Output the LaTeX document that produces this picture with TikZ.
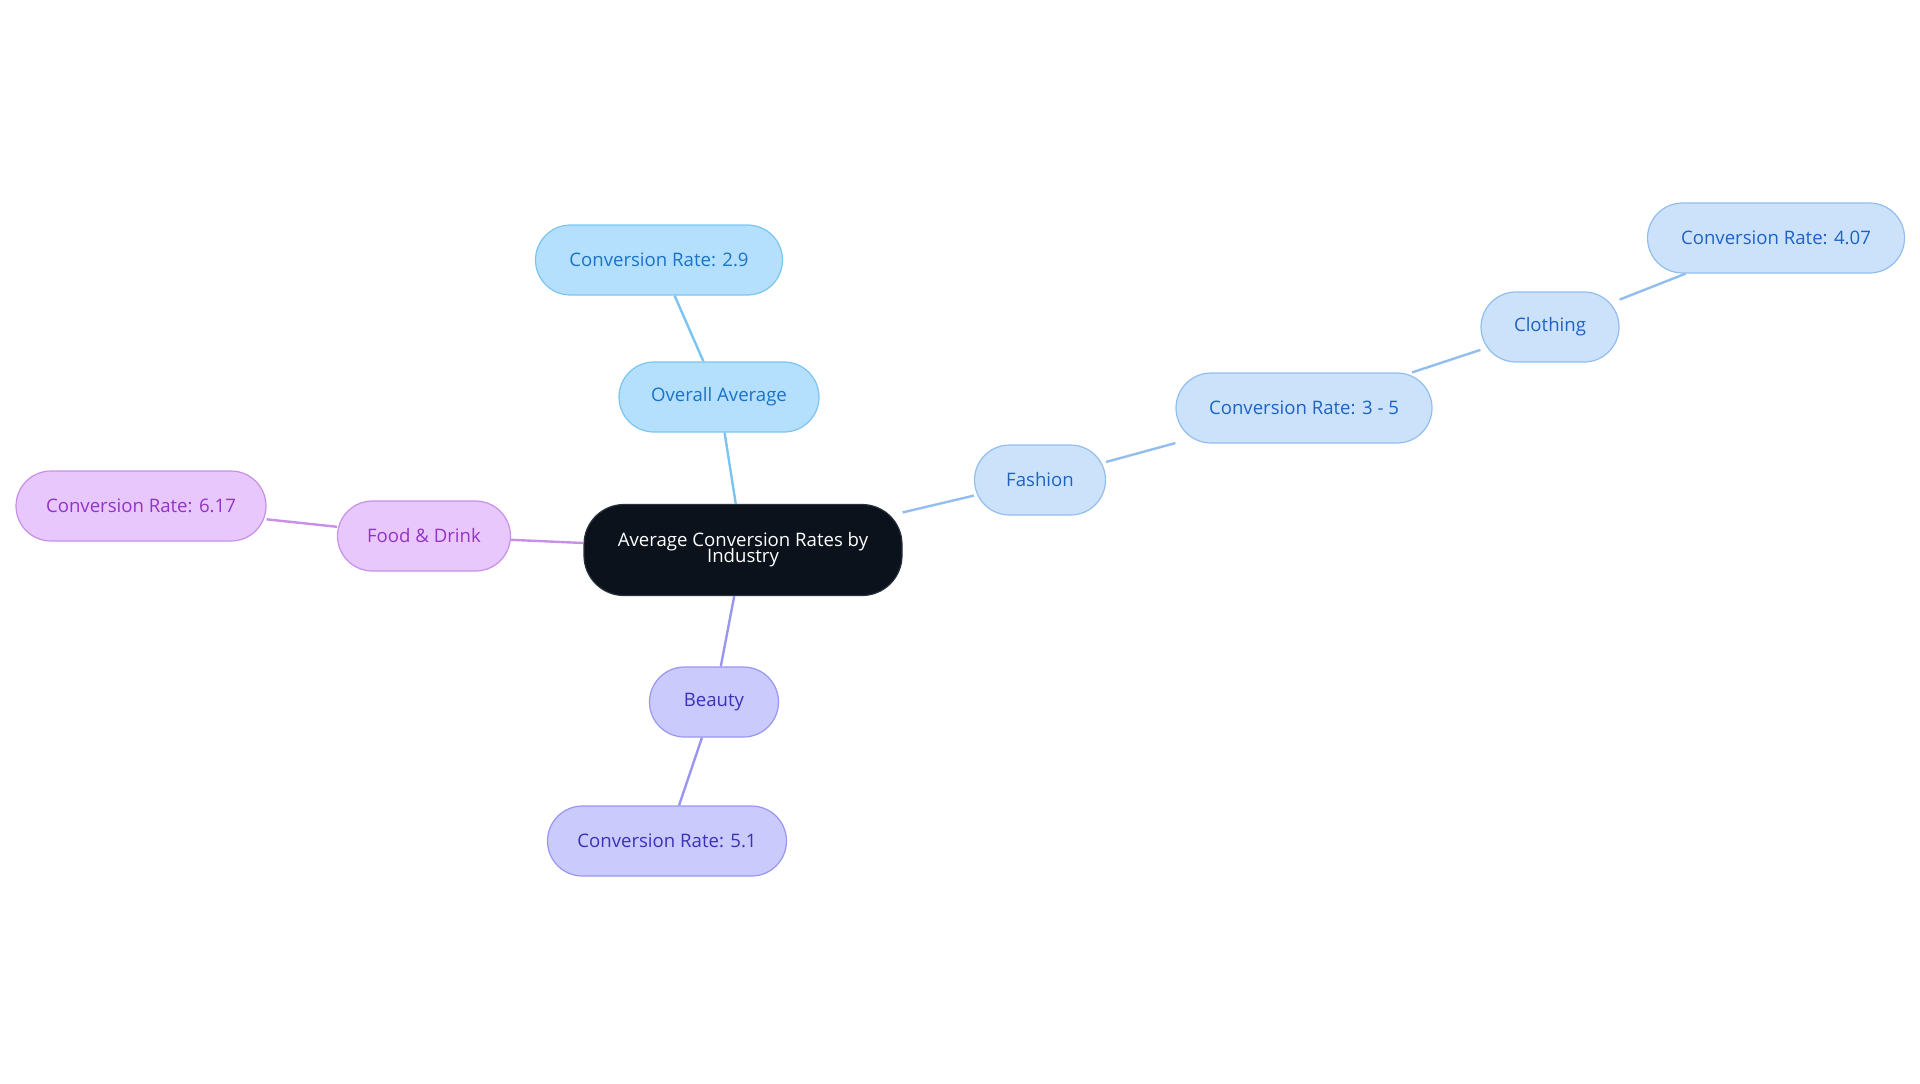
\documentclass[tikz,border=0pt]{standalone}
\usepackage{fontspec}
\setmainfont{Open Sans}
\begin{document}
\begin{tikzpicture}[x=0.5pt,y=-0.5pt,
  base/.style={rounded corners=17.5pt,minimum height=35pt,inner sep=0pt,line width=0.6pt,font=\fontsize{9.3}{10}\selectfont,align=center},
  cen/.style={base,fill={rgb,255:red,11;green,18;blue,28},draw={rgb,255:red,40;green,48;blue,60},text=white,rounded corners=20pt},
  bl/.style={base,fill={rgb,255:red,180;green,224;blue,254},draw={rgb,255:red,124;green,196;blue,240},text={rgb,255:red,26;green,115;blue,200}},
  fa/.style={base,fill={rgb,255:red,204;green,226;blue,250},draw={rgb,255:red,146;green,190;blue,239},text={rgb,255:red,30;green,99;blue,196}},
  pu/.style={base,fill={rgb,255:red,232;green,200;blue,252},draw={rgb,255:red,199;green,143;blue,232},text={rgb,255:red,147;green,51;blue,200}},
  be/.style={base,fill={rgb,255:red,202;green,202;blue,252},draw={rgb,255:red,154;green,149;blue,240},text={rgb,255:red,58;green,50;blue,184}},
  ebl/.style={draw={rgb,255:red,124;green,196;blue,240},line width=1.2pt},
  efa/.style={draw={rgb,255:red,146;green,190;blue,239},line width=1.2pt},
  epu/.style={draw={rgb,255:red,199;green,143;blue,232},line width=1.2pt},
  ebe/.style={draw={rgb,255:red,154;green,149;blue,240},line width=1.2pt}]
\useasboundingbox (0,0) rectangle (1920,1083);
\node[cen,minimum width=159pt,minimum height=45.5pt] (c) at (743,550) {Average Conversion Rates by\\[-2pt]Industry};
\node[bl,minimum width=100pt] (oa) at (719,397) {Overall Average};
\node[bl,minimum width=123.5pt] (oa1) at (659,260) {Conversion Rate: 2.9};
\node[fa,minimum width=65.5pt] (fa) at (1040,480) {Fashion};
\node[fa,minimum width=128pt] (fa1) at (1304,408) {Conversion Rate: 3 - 5};
\node[fa,minimum width=69pt] (cl) at (1550,327) {Clothing};
\node[fa,minimum width=128.5pt] (cl1) at (1776,238) {Conversion Rate: 4.07};
\node[pu,minimum width=86.5pt] (fd) at (424,536) {Food \& Drink};
\node[pu,minimum width=125pt] (fd1) at (141,506) {Conversion Rate: 6.17};
\node[be,minimum width=64.5pt] (be) at (714,702) {Beauty};
\node[be,minimum width=119.5pt] (be1) at (667,841) {Conversion Rate: 5.1};
\begin{scope}[on background layer/.try]
\end{scope}
\draw[ebl] (c) -- (oa); \draw[ebl] (oa) -- (oa1);
\draw[efa] (c) -- (fa); \draw[efa] (fa) -- (fa1); \draw[efa] (fa1) -- (cl); \draw[efa] (cl) -- (cl1);
\draw[epu] (c) -- (fd); \draw[epu] (fd) -- (fd1);
\draw[ebe] (c) -- (be); \draw[ebe] (be) -- (be1);
\end{tikzpicture}
\end{document}
